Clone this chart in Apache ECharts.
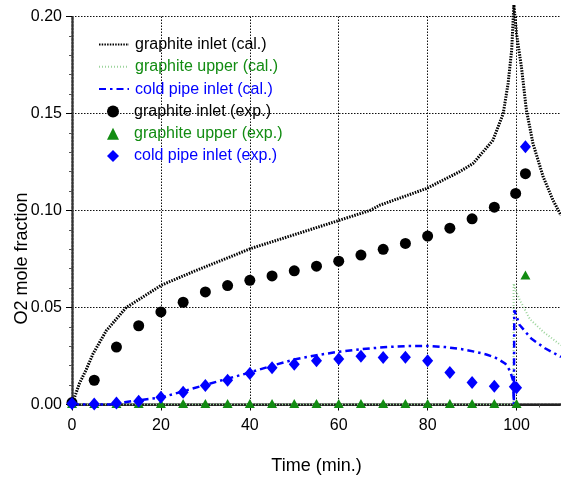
<!DOCTYPE html>
<html>
<head>
<meta charset="utf-8">
<script src="https://cdn.jsdelivr.net/npm/echarts@6/dist/echarts.min.js"></script>
<style>
  html, body { margin: 0; padding: 0; background: #fff; }
  #chart { width: 561px; height: 479px; }
</style>
</head>
<body>
<div id="chart"></div>
<script>
// Calculated O2 mole fraction curves (time in minutes)
const inletCalTime = [0, 1.7, 3.2, 4.7, 7.7, 12.2, 16, 20.1, 27.2, 34.7, 40.2, 49.7, 60.2, 67, 69.2, 79.7, 87.2, 90.2, 94.7, 97, 98.1, 98.9, 99.4, 100, 101.1, 102.2, 103.7, 106, 108.2, 110];
const inletCalO2   = [0, 0.011, 0.018, 0.026, 0.038, 0.050, 0.0555, 0.0615, 0.0684, 0.0753, 0.0804, 0.0873, 0.095, 0.100, 0.1027, 0.1113, 0.120, 0.1242, 0.1362, 0.150, 0.1655, 0.1826, 0.206, 0.191, 0.174, 0.152, 0.1345, 0.1173, 0.1053, 0.0975];

const upperCalTime = [0, 99.3, 99.35, 99.8, 100.7, 103, 106, 110];
const upperCalO2   = [0, 0, 0.0624, 0.059, 0.054, 0.044, 0.0375, 0.0305];

const coldCalTime = [0, 10, 12.2, 16, 20, 25, 30, 35, 40, 45, 50, 55, 60, 65, 70, 75, 80, 84, 88, 91, 93.2, 95, 96.2, 97.5, 98.5, 99.2, 99.4, 99.5, 100.7, 103.3, 106.4, 110];
const coldCalO2   = [0, 0, 0.0013, 0.0025, 0.0036, 0.0068, 0.0101, 0.0133, 0.0165, 0.0200, 0.0232, 0.0254, 0.0272, 0.0285, 0.0295, 0.0301, 0.0302, 0.0296, 0.0284, 0.0270, 0.0258, 0.0244, 0.0229, 0.0210, 0.0175, 0.0125, 0.0, 0.0486, 0.041, 0.034, 0.029, 0.0245];

// Measured O2 mole fraction
const inletExpTime = [0, 5, 10, 15, 20, 25, 30, 35, 40, 45, 50, 55, 60, 65, 70, 75, 80, 85, 90, 95, 99.8, 102];
const inletExpO2   = [0.001, 0.0125, 0.0296, 0.0406, 0.0477, 0.0527, 0.058, 0.0613, 0.064, 0.0663, 0.0689, 0.0713, 0.0739, 0.077, 0.080, 0.083, 0.0868, 0.0909, 0.0957, 0.1017, 0.1088, 0.119];

const upperExpTime = [0, 5, 10, 15, 20, 25, 30, 35, 40, 45, 50, 55, 60, 65, 70, 75, 80, 85, 90, 95, 100, 102];
const upperExpO2   = [0.0005, 0.0005, 0.0005, 0.0005, 0.0005, 0.0005, 0.0005, 0.0005, 0.0005, 0.0005, 0.0005, 0.0005, 0.0005, 0.0005, 0.0005, 0.0005, 0.0005, 0.0005, 0.0005, 0.0005, 0.0005, 0.0667];

const coldExpTime = [0, 5, 10, 15, 20, 25, 30, 35, 40, 45, 50, 55, 60, 65, 70, 75, 80, 85, 90, 95, 99.5, 100, 102];
const coldExpO2   = [0.0005, 0.0003, 0.0008, 0.0017, 0.0038, 0.0063, 0.0098, 0.0125, 0.016, 0.0189, 0.0208, 0.0225, 0.0235, 0.0249, 0.0242, 0.0244, 0.0225, 0.0165, 0.0113, 0.0094, 0.0091, 0.0086, 0.1328];

const seriesNames = [
  'graphite inlet (cal.)', 'graphite upper (cal.)', 'cold pipe inlet (cal.)',
  'graphite inlet (exp.)', 'graphite upper (exp.)', 'cold pipe inlet (exp.)'
];

const BLACK = '#000000';
const GREEN = '#128c12';
const LIGHT_GREEN = '#9cd49c';
const BLUE = '#0000ff';
const FONT = '"Liberation Sans", Arial, sans-serif';

const pairs = (xs, ys) => xs.map((x, i) => [x, ys[i]]);

const chart = echarts.init(document.getElementById('chart'), null, { renderer: 'canvas' });

const gridLine = { show: true, lineStyle: { color: '#111', width: 1, type: [1.5, 1.5] } };
// line-only legend entries: hide the marker that line series put in the middle
const noMarker = { color: 'rgba(0,0,0,0)', borderWidth: 0 };
const legendText = { fontSize: 16, fontFamily: FONT, lineHeight: 16 };
const ROW = 22.3;
const LEGEND_TOP = 31.5;

chart.setOption({
  animation: false,
  backgroundColor: '#fff',
  textStyle: { fontFamily: FONT },
  grid: { left: 72, right: 0, top: 16.5, bottom: 74.5, containLabel: false, outerBoundsMode: 'none' },
  legend: [{
    // calculated curves: line samples
    orient: 'vertical',
    left: 93,
    top: LEGEND_TOP,
    itemWidth: 30,
    itemHeight: 12,
    itemGap: ROW - 16,
    textStyle: Object.assign({ padding: [0, 0, 0, 1] }, legendText),
    data: [
      { name: seriesNames[0], textStyle: { color: BLACK }, itemStyle: noMarker },
      { name: seriesNames[1], textStyle: { color: GREEN }, itemStyle: noMarker },
      { name: seriesNames[2], textStyle: { color: BLUE }, itemStyle: noMarker }
    ]
  }, {
    // measurements: marker samples
    orient: 'vertical',
    left: 102,
    top: LEGEND_TOP + 3 * ROW,
    itemWidth: 12,
    itemHeight: 12,
    itemGap: ROW - 16,
    textStyle: Object.assign({ padding: [0, 0, 0, 10] }, legendText),
    data: [
      { name: seriesNames[3], textStyle: { color: BLACK } },
      { name: seriesNames[4], textStyle: { color: GREEN } },
      { name: seriesNames[5], textStyle: { color: BLUE } }
    ]
  }],
  xAxis: [{
    type: 'value',
    min: 0, max: 110, interval: 20,
    name: 'Time (min.)',
    nameLocation: 'middle',
    nameGap: 53,
    nameMoveOverlap: false,
    nameTextStyle: { fontSize: 18, color: '#000', fontFamily: FONT },
    axisLine: { show: true, onZero: false, lineStyle: { color: '#333', width: 2.5, type: [2, 1.5] } },
    axisTick: { show: true, length: 6, lineStyle: { color: '#000', width: 1 } },
    minorTick: { show: true, splitNumber: 4, length: 3, lineStyle: { color: '#555' } },
    axisLabel: { fontSize: 16, color: '#000', margin: 13, showMaxLabel: false, fontFamily: FONT },
    splitLine: gridLine
  }, {
    type: 'value',
    position: 'top',
    min: 0, max: 110,
    axisLine: { show: true, lineStyle: { color: '#222', width: 2, type: [1.5, 1.5] } },
    axisTick: { show: false },
    axisLabel: { show: false },
    splitLine: { show: false }
  }],
  yAxis: {
    type: 'value',
    min: 0, max: 0.2, interval: 0.05,
    name: 'O2 mole fraction',
    nameLocation: 'middle',
    nameGap: 41,
    nameMoveOverlap: false,
    nameTextStyle: { fontSize: 18, color: '#000', fontFamily: FONT, padding: [0, 96, 0, 0] },
    axisLine: { show: true, onZero: false, lineStyle: { color: '#333', width: 2.5, type: [2, 1.5] } },
    axisTick: { show: true, length: 6, lineStyle: { color: '#000', width: 1 } },
    minorTick: { show: true, splitNumber: 5, length: 3, lineStyle: { color: '#555' } },
    axisLabel: { fontSize: 16, color: '#000', margin: 10, fontFamily: FONT,
      formatter: v => v.toFixed(2) },
    splitLine: gridLine
  },
  series: [
    {
      name: seriesNames[0], type: 'line', symbol: 'none', clip: false, z: 3,
      data: pairs(inletCalTime, inletCalO2),
      itemStyle: { color: BLACK },
      lineStyle: { color: BLACK, width: 3, type: [1.5, 1.2] }
    },
    {
      name: seriesNames[1], type: 'line', symbol: 'none', z: 2,
      data: pairs(upperCalTime, upperCalO2),
      itemStyle: { color: LIGHT_GREEN },
      lineStyle: { color: LIGHT_GREEN, width: 2, type: [1, 2] }
    },
    {
      name: seriesNames[2], type: 'line', symbol: 'none', z: 3,
      data: pairs(coldCalTime, coldCalO2),
      itemStyle: { color: BLUE },
      lineStyle: { color: BLUE, width: 2.5, type: [7, 4, 2.5, 4] }
    },
    {
      name: seriesNames[3], type: 'scatter', symbol: 'circle', symbolSize: 11, z: 4,
      data: pairs(inletExpTime, inletExpO2),
      itemStyle: { color: BLACK, opacity: 1 }
    },
    {
      name: seriesNames[4], type: 'scatter', symbol: 'triangle', symbolSize: [10, 9], z: 4,
      data: pairs(upperExpTime, upperExpO2),
      itemStyle: { color: GREEN, opacity: 1 }
    },
    {
      name: seriesNames[5], type: 'scatter', symbol: 'diamond', symbolSize: [11, 13], z: 5,
      data: pairs(coldExpTime, coldExpO2),
      itemStyle: { color: BLUE, opacity: 1 }
    }
  ]
});
</script>
</body>
</html>
